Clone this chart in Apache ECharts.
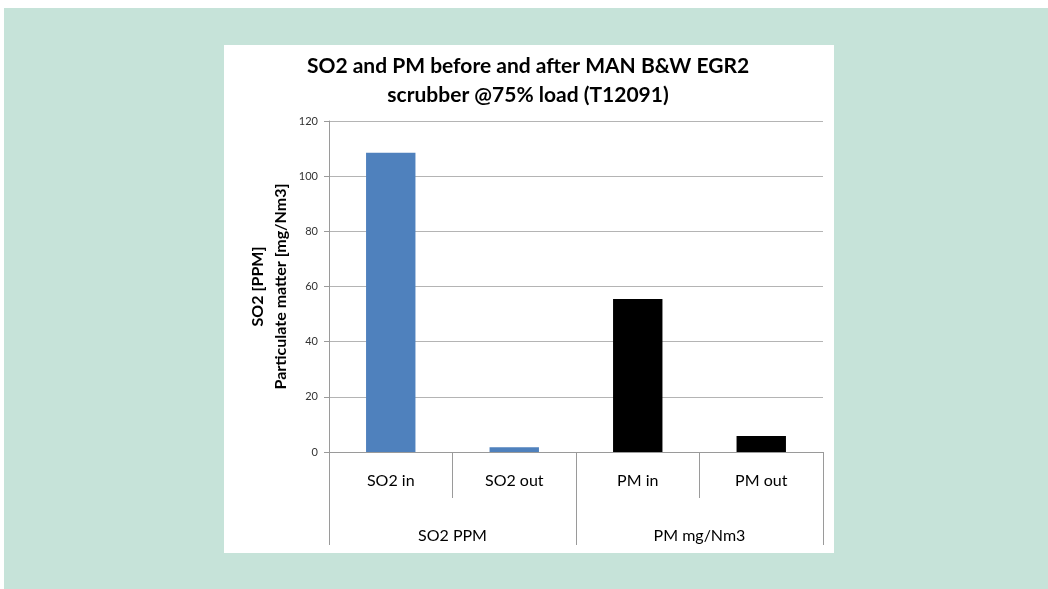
<!DOCTYPE html>
<html><head><meta charset="utf-8">
<script src="https://cdn.jsdelivr.net/npm/echarts@6/dist/echarts.min.js"></script>
<style>html,body{margin:0;padding:0;background:#fff}#c{width:1048px;height:589px}</style>
</head><body><div id="c"></div>
<script>
const titleText = "SO2 and PM before and after MAN B&W EGR2\nscrubber @75% load (T12091)";
const yAxisName = "SO2 [PPM]\nParticulate matter [mg/Nm3]";
const categories = ["SO2 in", "SO2 out", "PM in", "PM out"];
const groups = ["SO2 PPM", "PM mg/Nm3"];
const groupOfCategory = [0, 0, 1, 1];
const values = [108.5, 1.7, 55.5, 5.8];
const yTicks = [0, 20, 40, 60, 80, 100, 120];

const FONT = "Lato, 'Open Sans', sans-serif";
const groupColors = ['#4f81bd', '#000000'];
const chart = echarts.init(document.getElementById('c'), null, {renderer: 'canvas'});
chart.setOption({
  backgroundColor: '#ffffff',
  animation: false,
  graphic: [
    {type: 'rect', z: -10, shape: {x: 4, y: 8, width: 1044, height: 581}, style: {fill: '#c6e3d9'}, silent: true},
    {type: 'rect', z: -9, shape: {x: 224, y: 45, width: 610, height: 508}, style: {fill: '#ffffff'}, silent: true}
  ],
  title: {
    text: titleText, padding: 0,
    left: 528, top: 52, textAlign: 'center',
    textStyle: {fontFamily: FONT, fontSize: 21, fontWeight: 'bold', color: '#000', lineHeight: 29}
  },
  grid: {left: 329, right: 225, top: 121, bottom: 137, containLabel: false},
  xAxis: [
    {
      type: 'category', data: categories, position: 'bottom',
      axisLine: {show: true, lineStyle: {color: '#9a9a9a', width: 1}},
      axisTick: {show: true, length: 46, lineStyle: {color: '#9a9a9a'}},
      axisLabel: {margin: 21, fontFamily: FONT, fontSize: 16, color: '#000'}
    },
    {
      type: 'category', data: groups, position: 'bottom', gridIndex: 0,
      axisLine: {show: false},
      axisTick: {show: true, length: 93, lineStyle: {color: '#9a9a9a'}},
      axisLabel: {margin: 76, fontFamily: FONT, fontSize: 16, color: '#000'}
    }
  ],
  yAxis: {
    type: 'value', min: yTicks[0], max: yTicks[yTicks.length - 1], interval: 20,
    name: yAxisName, nameLocation: 'middle', nameRotate: 90, nameGap: 37,
    nameTextStyle: {fontFamily: FONT, fontSize: 16, fontWeight: 'bold', color: '#000', lineHeight: 23},
    axisLine: {show: true, lineStyle: {color: '#9a9a9a'}},
    axisTick: {show: true, length: 5, lineStyle: {color: '#9a9a9a'}},
    axisLabel: {margin: 11, fontFamily: FONT, fontSize: 11, color: '#333'},
    splitLine: {show: true, lineStyle: {color: '#b4b4b4', width: 1}}
  },
  series: [{
    type: 'bar', xAxisIndex: 0, data: values, barWidth: '40%',
    itemStyle: {color: p => groupColors[groupOfCategory[p.dataIndex]]}
  }]
});
</script></body></html>
